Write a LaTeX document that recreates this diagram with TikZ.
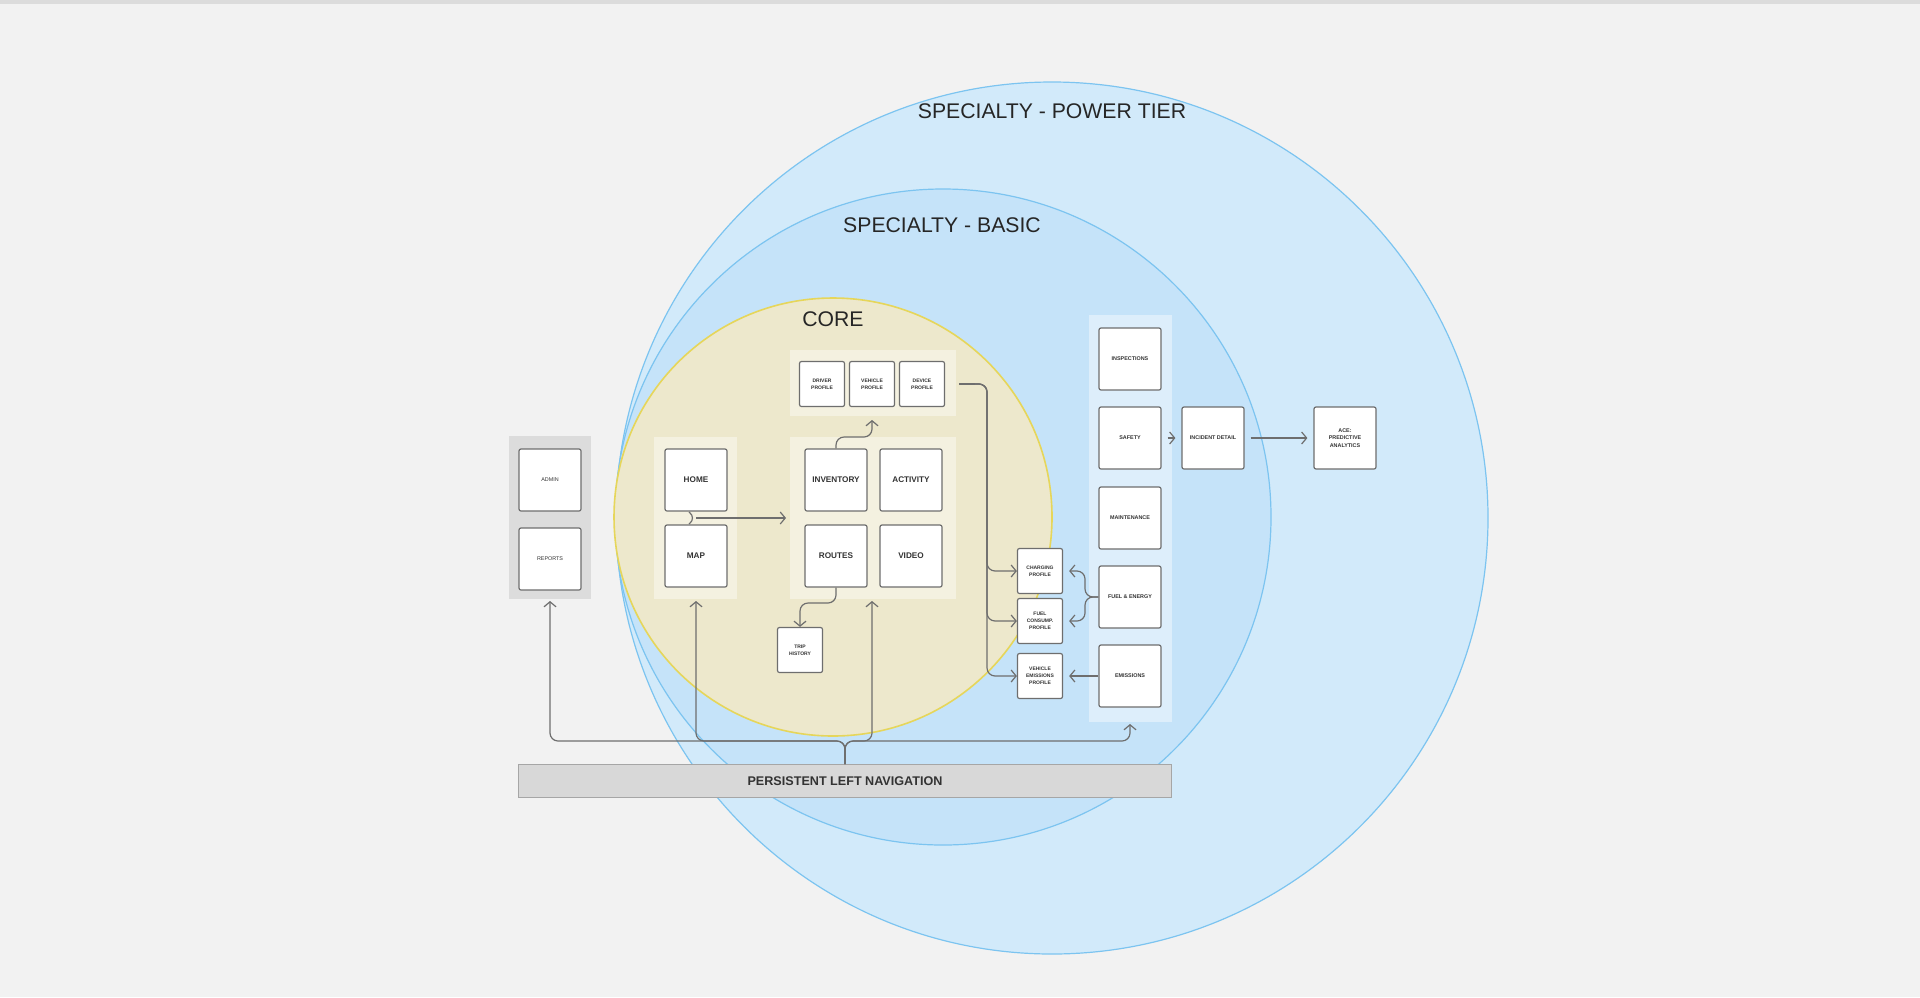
\documentclass[tikz,border=0pt]{standalone}
\usepackage{fontspec}
\setmainfont{Liberation Sans}
\usetikzlibrary{arrows.meta}
\definecolor{bgc}{HTML}{F2F2F2}
\definecolor{powf}{HTML}{D2EAFA}
\definecolor{pows}{HTML}{7CC4F0}
\definecolor{basf}{HTML}{C5E3F9}
\definecolor{coref}{HTML}{EDE8CC}
\definecolor{cores}{HTML}{E6D65A}
\definecolor{grpc}{HTML}{F4F1E0}
\definecolor{colc}{HTML}{DDEEFB}
\definecolor{admc}{HTML}{DCDCDC}
\definecolor{lnc}{HTML}{6E6E6E}
\definecolor{navc}{HTML}{D8D8D8}
\begin{document}
\begin{tikzpicture}[x=0.5pt,y=-0.5pt,
  box/.style={draw=lnc,line width=0.6pt,fill=white,rounded corners=1pt,align=center,inner sep=0pt,text=black!80},
  big/.style={box,minimum width=31pt,minimum height=31pt,font=\bfseries\fontsize{4.1}{5}\selectfont},
  med/.style={box,minimum width=31pt,minimum height=31pt,font=\bfseries\fontsize{2.7}{3.7}\selectfont},
  sml/.style={box,minimum width=22.5pt,minimum height=22.5pt,font=\bfseries\fontsize{2.5}{3.6}\selectfont},
  arr/.style={draw=lnc,line width=0.6pt,-{Straight Barb[length=2.5pt,width=6pt]},rounded corners=4pt},
  ln/.style={draw=lnc,line width=0.6pt,rounded corners=4pt},
  ttl/.style={font=\fontsize{10.6}{12}\selectfont,text=black!85}]
\useasboundingbox (0,0) rectangle (1920,997);
\fill[bgc] (0,0) rectangle (1920,997);
\fill[admc] (0,0) rectangle (1920,4);
% circles
\draw[fill=powf,draw=pows,line width=0.6pt] (1052,518) circle[radius=436];
\draw[fill=basf,draw=pows,line width=0.6pt] (943,517) circle[radius=328];
\draw[fill=coref,draw=cores,line width=0.8pt] (833,517) circle[radius=219];
\node[ttl] (tpow) at (1052,111) {SPECIALTY - POWER TIER};
\node[ttl] (tbas) at (942,225) {SPECIALTY - BASIC};
\node[ttl] (tcore) at (833,319) {CORE};
% groups
\fill[admc] (509,436) rectangle (591,599);
\fill[grpc] (654,437) rectangle (737,599);
\fill[grpc] (790,437) rectangle (956,599);
\fill[grpc] (790,350) rectangle (956,416);
\fill[colc] (1089,315) rectangle (1172,722);
% boxes
\node[med,font=\fontsize{2.7}{3.4}\selectfont] (admin) at (550,480) {ADMIN};
\node[med,font=\fontsize{2.7}{3.4}\selectfont] (reports) at (550,559) {REPORTS};
\node[big] (home) at (696,480) {HOME};
\node[big] (map) at (696,556) {MAP};
\node[big] (inv) at (836,480) {INVENTORY};
\node[big] (act) at (911,480) {ACTIVITY};
\node[big] (routes) at (836,556) {ROUTES};
\node[big] (video) at (911,556) {VIDEO};
\node[sml] (drv) at (822,384) {DRIVER\\PROFILE};
\node[sml] (veh) at (872,384) {VEHICLE\\PROFILE};
\node[sml] (dev) at (922,384) {DEVICE\\PROFILE};
\node[sml] (trip) at (800,650) {TRIP\\HISTORY};
\node[sml] (chg) at (1040,571) {CHARGING\\PROFILE};
\node[sml] (fuel) at (1040,621) {FUEL\\CONSUMP.\\PROFILE};
\node[sml] (vem) at (1040,676) {VEHICLE\\EMISSIONS\\PROFILE};
\node[med] (insp) at (1130,359) {INSPECTIONS};
\node[med] (safe) at (1130,438) {SAFETY};
\node[med] (maint) at (1130,518) {MAINTENANCE};
\node[med] (fe) at (1130,597) {FUEL \& ENERGY};
\node[med] (emis) at (1130,676) {EMISSIONS};
\node[med] (inc) at (1213,438) {INCIDENT DETAIL};
\node[med] (ace) at (1345,438) {ACE:\\PREDICTIVE\\ANALYTICS};
\node[draw=black!35,fill=navc,minimum width=326.5pt,minimum height=16.5pt,inner sep=0pt,font=\bfseries\fontsize{6.3}{7}\selectfont,text=black!80] (nav) at (845,781) {PERSISTENT LEFT NAVIGATION};
% nav connectors
\coordinate (na) at (550,601);
\coordinate (nm) at (696,601);
\coordinate (nr) at (872,601);
\coordinate (nc) at (1130,724);
\draw[arr] (nav.north) -- (845,741) -| (na);
\draw[arr] (nav.north) -- (845,741) -| (nm);
\draw[arr] (nav.north) -- (845,741) -| (nr);
\draw[arr] (nav.north) -- (845,741) -| (nc);
% core connectors
\coordinate (pg) at (872,420);
\draw[arr] (inv.north) -- (836,437) -| (pg);
\draw[arr] (routes.south) -- (836,603) -| (trip.north);
\coordinate (hm) at (696,518);
\coordinate (hmend) at (786,518);
\draw[ln] (689,512) -- (696,518) -- (689,524);
\draw[arr] (hm) -- (hmend);
% device profile branches
\draw[arr] (dev.east) ++(14,0) -| (987,460) |- (chg.west);
\draw[arr] (dev.east) ++(14,0) -| (987,500) |- (fuel.west);
\draw[arr] (dev.east) ++(14,0) -| (987,560) |- (vem.west);
\draw[ln] (959,384) -- (975,384);
% fuel & energy
\draw[arr] (fe.west) -- (1085,597) |- ([xshift=3]chg.east);
\draw[arr] (fe.west) -- (1085,597) |- ([xshift=3]fuel.east);
\draw[arr] (emis.west) -- ([xshift=3]vem.east);
\draw[arr] ([xshift=3]safe.east) -- ([xshift=-3]inc.west);
\draw[arr] ([xshift=3]inc.east) -- ([xshift=-3]ace.west);
\end{tikzpicture}
\end{document}
